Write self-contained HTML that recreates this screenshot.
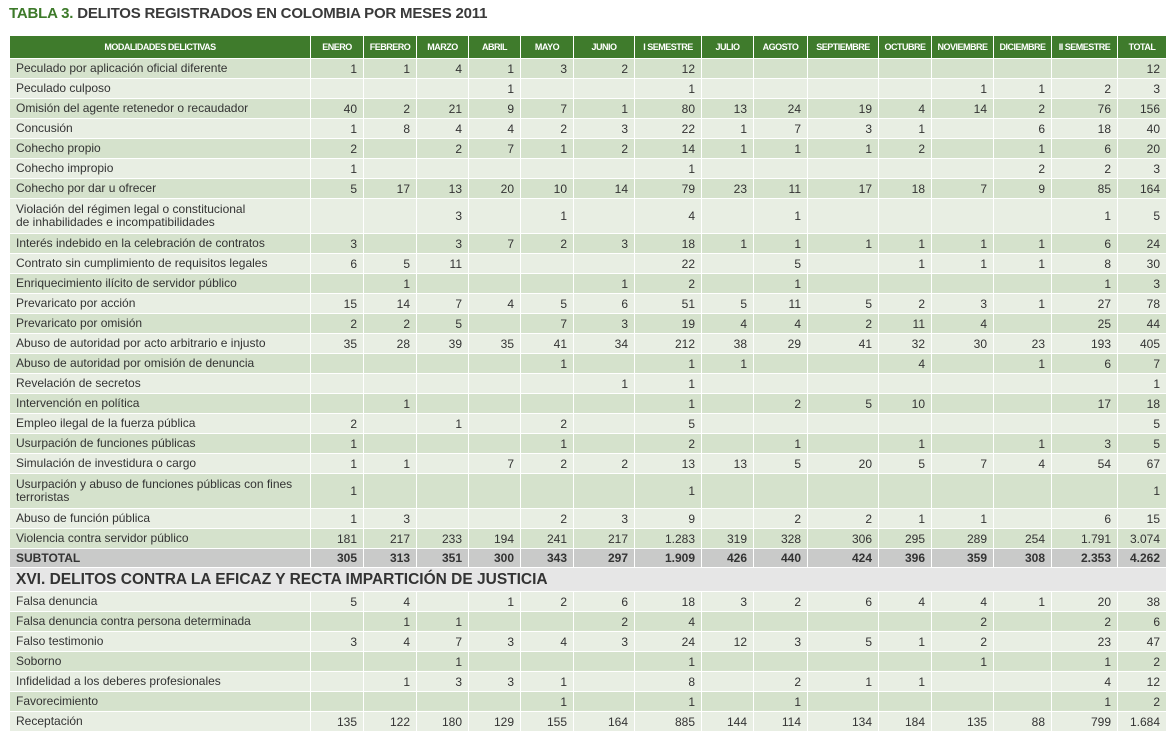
<!DOCTYPE html>
<html><head><meta charset="utf-8">
<style>
body{margin:0;background:#fff;width:1173px;height:739px;overflow:hidden;font-family:"Liberation Sans",sans-serif;}
#title{position:absolute;left:9px;top:5px;font-size:15px;font-weight:bold;color:#3a3a3a;letter-spacing:-0.2px}
#title span{color:#3d7a2a}
table{position:absolute;left:9px;top:35px;border-collapse:collapse;table-layout:fixed;width:1157px}
td,th{border:1px solid #fff;padding:0 6px;font-size:12px;color:#333;white-space:nowrap;overflow:hidden}
th{background:#3f7b2c;color:#fff;font-size:9px;font-weight:bold;height:22px;text-align:center;letter-spacing:-0.5px;padding:0 2px}
td{height:19px;text-align:right}
td.n{text-align:left;line-height:13px}
tr.d td{background:#d5e2cc}
tr.l td{background:#e8eee3}
tr.sub td{background:#c9cac9;font-weight:bold;height:18px}
tr.sec td{background:#e6e6e6;font-size:15.5px;font-weight:bold;text-align:left;height:23px;color:#333}
</style></head><body>
<div id="title"><span>TABLA 3.</span> DELITOS REGISTRADOS EN COLOMBIA POR MESES 2011</div>
<table id="t">
<colgroup><col style="width:301px"><col style="width:53px"><col style="width:53px"><col style="width:52px"><col style="width:52px"><col style="width:53px"><col style="width:61px"><col style="width:67px"><col style="width:52px"><col style="width:54px"><col style="width:71px"><col style="width:53px"><col style="width:62px"><col style="width:58px"><col style="width:66px"><col style="width:49px"></colgroup>
<tbody id="tb"></tbody></table>
<script>
const headers=["MODALIDADES DELICTIVAS","ENERO","FEBRERO","MARZO","ABRIL","MAYO","JUNIO","I SEMESTRE","JULIO","AGOSTO","SEPTIEMBRE","OCTUBRE","NOVIEMBRE","DICIEMBRE","II SEMESTRE","TOTAL"];
const rowsA=[
["Peculado por aplicación oficial diferente","1,1,4,1,3,2,12,,,,,,,,12"],
["Peculado culposo",",,,1,,,1,,,,,1,1,2,3"],
["Omisión del agente retenedor o recaudador","40,2,21,9,7,1,80,13,24,19,4,14,2,76,156"],
["Concusión","1,8,4,4,2,3,22,1,7,3,1,,6,18,40"],
["Cohecho propio","2,,2,7,1,2,14,1,1,1,2,,1,6,20"],
["Cohecho impropio","1,,,,,,1,,,,,,2,2,3"],
["Cohecho por dar u ofrecer","5,17,13,20,10,14,79,23,11,17,18,7,9,85,164"],
["Violación del régimen legal o constitucional|de inhabilidades e incompatibilidades",",,3,,1,,4,,1,,,,,1,5"],
["Interés indebido en la celebración de contratos","3,,3,7,2,3,18,1,1,1,1,1,1,6,24"],
["Contrato sin cumplimiento de requisitos legales","6,5,11,,,,22,,5,,1,1,1,8,30"],
["Enriquecimiento ilícito de servidor público",",1,,,,1,2,,1,,,,,1,3"],
["Prevaricato por acción","15,14,7,4,5,6,51,5,11,5,2,3,1,27,78"],
["Prevaricato por omisión","2,2,5,,7,3,19,4,4,2,11,4,,25,44"],
["Abuso de autoridad por acto arbitrario e injusto","35,28,39,35,41,34,212,38,29,41,32,30,23,193,405"],
["Abuso de autoridad por omisión de denuncia",",,,,1,,1,1,,,4,,1,6,7"],
["Revelación de secretos",",,,,,1,1,,,,,,,,1"],
["Intervención en política",",1,,,,,1,,2,5,10,,,17,18"],
["Empleo ilegal de la fuerza pública","2,,1,,2,,5,,,,,,,,5"],
["Usurpación de funciones públicas","1,,,,1,,2,,1,,1,,1,3,5"],
["Simulación de investidura o cargo","1,1,,7,2,2,13,13,5,20,5,7,4,54,67"],
["Usurpación y abuso de funciones públicas con fines|terroristas","1,,,,,,1,,,,,,,,1"],
["Abuso de función pública","1,3,,,2,3,9,,2,2,1,1,,6,15"],
["Violencia contra servidor público","181,217,233,194,241,217,1.283,319,328,306,295,289,254,1.791,3.074"]];
const subtotal="305,313,351,300,343,297,1.909,426,440,424,396,359,308,2.353,4.262";
const sectionTitle="XVI. DELITOS CONTRA LA EFICAZ Y RECTA IMPARTICIÓN DE JUSTICIA";
const rowsB=[
["Falsa denuncia","5,4,,1,2,6,18,3,2,6,4,4,1,20,38"],
["Falsa denuncia contra persona determinada",",1,1,,,2,4,,,,,2,,2,6"],
["Falso testimonio","3,4,7,3,4,3,24,12,3,5,1,2,,23,47"],
["Soborno",",,1,,,,1,,,,,1,,1,2"],
["Infidelidad a los deberes profesionales",",1,3,3,1,,8,,2,1,1,,,4,12"],
["Favorecimiento",",,,,1,,1,,1,,,,,1,2"],
["Receptación","135,122,180,129,155,164,885,144,114,134,184,135,88,799,1.684"]];
const tb=document.getElementById('tb');
let tr=document.createElement('tr');


headers.forEach(h=>{const th=document.createElement('th');th.textContent=h;


tr.appendChild(th);});
tb.appendChild(tr);
function addRow(name,vals,cls){
 const r=document.createElement('tr');r.className=cls;
 
 
 const c0=document.createElement('td');c0.className='n';
 const parts=name.split('|');
 parts.forEach((p,i)=>{if(i)c0.appendChild(document.createElement('br'));c0.appendChild(document.createTextNode(p));});
 
 
 if(parts.length>1)c0.style.height='34px';
 r.appendChild(c0);
 vals.split(',').forEach(v=>{const c=document.createElement('td');c.textContent=v;
 
 
 r.appendChild(c);});
 tb.appendChild(r);
}
rowsA.forEach((r,i)=>addRow(r[0],r[1],i%2?'l':'d'));
addRow('SUBTOTAL',subtotal,'sub');
const s=document.createElement('tr');s.className='sec';


const sc=document.createElement('td');sc.colSpan=16;sc.textContent=sectionTitle;s.appendChild(sc);tb.appendChild(s);
rowsB.forEach((r,i)=>addRow(r[0],r[1],i%2?'d':'l'));
</script>
</body></html>
